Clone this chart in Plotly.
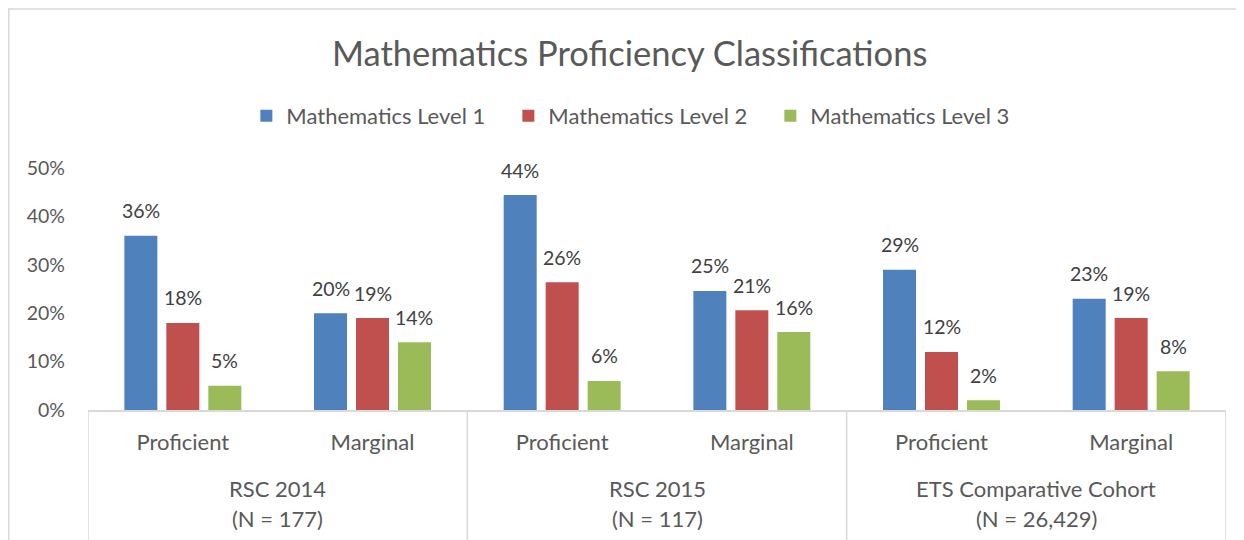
import plotly.graph_objects as go

series_names = ["Mathematics Level 1", "Mathematics Level 2", "Mathematics Level 3"]
series_colors = ["#4F81BD", "#C0504D", "#9BBB59"]
sub_categories = ["Proficient", "Marginal", "Proficient", "Marginal", "Proficient", "Marginal"]
groups = ["RSC 2014", "RSC 2015", "ETS Comparative Cohort"]
group_n = ["(N = 177)", "(N = 117)", "(N = 26,429)"]

level1 = [36, 20, 44.4, 24.6, 29, 23]
level2 = [18, 19, 26.4, 20.6, 12, 19]
level3 = [5, 14, 6.0, 16.1, 2, 8]
values = [level1, level2, level3]

FONT = "Lato"
TXT = "#595959"
LINE = "#D9D9D9"
BARGAP = 0.336
BARGROUPGAP = 0.214

xpos = list(range(len(sub_categories)))

fig = go.Figure()
for i, (name, col, vals) in enumerate(zip(series_names, series_colors, values)):
    fig.add_trace(go.Bar(
        x=xpos, y=vals, name=name, marker=dict(color=col, line=dict(width=0)),
        hoverinfo="skip",
    ))

# data labels above each bar (centre of bar i within its category slot)
nser = len(values)
slot = (1 - BARGAP) / nser
for i, vals in enumerate(values):
    for xc, v in zip(xpos, vals):
        fig.add_annotation(
            x=xc + (i - (nser - 1) / 2) * slot, xref="x", y=v, yref="y",
            text=f"{round(v):d}%", showarrow=False, yanchor="middle", yshift=25,
            font=dict(family=FONT, size=19.5, color="#404040"),
        )

# group dividers below the axis
for xb in [-0.5, 1.5, 3.5, 5.5]:
    fig.add_shape(type="line", xref="x", yref="paper", x0=xb, x1=xb, y0=0, y1=-0.6,
                  line=dict(color=LINE, width=1.5))
# outer chart border (top & left)
fig.add_shape(type="rect", xref="paper", yref="paper", x0=-0.0696, x1=1.2, y0=-1.0, y1=1.657,
              line=dict(color=LINE, width=1.5), layer="below")

for gi, (g, n) in enumerate(zip(groups, group_n)):
    xc = 2 * gi + 0.5
    fig.add_annotation(x=xc, xref="x", y=0, yref="paper", yshift=-78, text=g, showarrow=False,
                       yanchor="middle", font=dict(family=FONT, size=22, color=TXT))
    fig.add_annotation(x=xc, xref="x", y=0, yref="paper", yshift=-108, text=n, showarrow=False,
                       yanchor="middle", font=dict(family=FONT, size=22, color=TXT))

fig.update_layout(
    width=1236, height=532,
    margin=dict(l=80, r=18, t=160, b=130, autoexpand=False),
    paper_bgcolor="white", plot_bgcolor="white",
    barmode="group", bargap=BARGAP, bargroupgap=BARGROUPGAP,
    title=dict(text="Mathematics Proficiency Classifications", x=0.503, xref="container",
               y=0.9135, yref="container", xanchor="center", yanchor="middle",
               font=dict(family=FONT, size=34.5, color=TXT)),
    legend=dict(orientation="h", x=0.4845, xanchor="center", y=1.215, yanchor="middle",
                font=dict(family=FONT, size=22, color=TXT), entrywidth=217, entrywidthmode="pixels",
                itemclick=False, itemdoubleclick=False),
    xaxis=dict(range=[-0.5, 5.5], tickvals=xpos, ticktext=sub_categories, showgrid=False,
               zeroline=False, showline=True, linecolor=LINE, linewidth=1.5, ticks="",
               ticklabelstandoff=12, tickfont=dict(family=FONT, size=22, color=TXT), fixedrange=True),
    yaxis=dict(range=[0, 50], dtick=10, ticksuffix="%", showgrid=False, zeroline=False,
               showline=False, ticks="", ticklabelstandoff=22,
               tickfont=dict(family=FONT, size=19.5, color=TXT), fixedrange=True),
    showlegend=True,
)

fig.write_html("out.html")
